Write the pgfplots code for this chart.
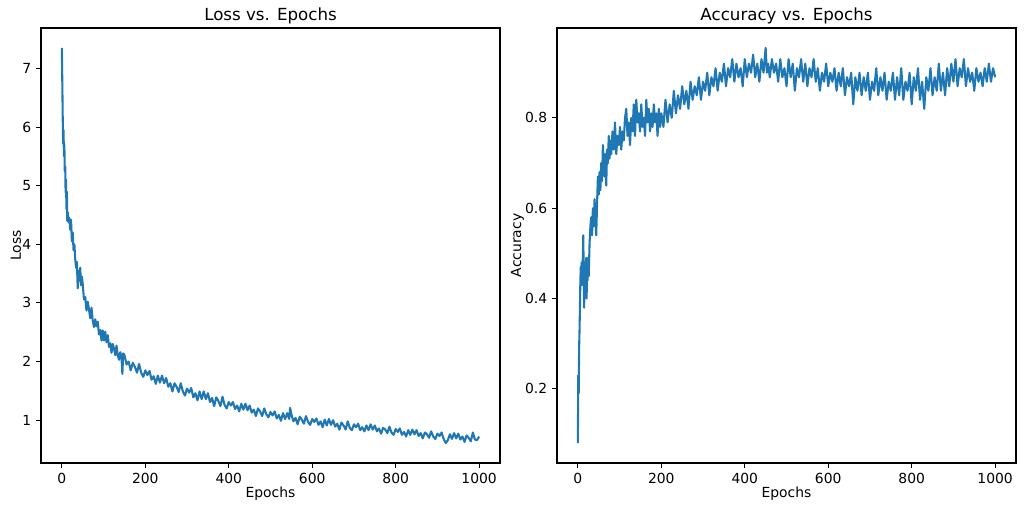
\documentclass[border=0pt]{standalone}
\usepackage{pgfplots}
\pgfplotsset{compat=1.18}
\usepackage{pgfplotstable}
\usepackage{fontspec}
\setmainfont{DejaVu Sans}
\definecolor{mplblue}{HTML}{1F77B4}

\pgfplotstableread{
x y
0 7.35
1 6.80
2 6.20
3 5.72
4 5.95
5 5.50
6 5.70
7 5.25
8 5.33
9 4.88
10 5.10
11 4.60
12 4.90
13 4.40
14 4.55
16 4.38
18 4.45
20 4.25
22 4.42
24 4.05
26 4.20
28 3.90
30 4.00
32 3.75
34 3.60
36 3.70
38 3.25
40 3.55
42 3.38
44 3.60
46 3.30
48 3.45
50 3.32
53 3.06
56 3.10
59 2.87
62 3.02
65 2.89
68 2.74
71 2.92
74 2.70
77 2.59
80 2.72
83 2.60
86 2.68
89 2.46
92 2.54
95 2.36
98 2.53
101 2.36
104 2.51
107 2.33
110 2.45
113 2.25
116 2.31
119 2.15
122 2.30
125 2.22
128 2.11
131 2.27
134 2.11
137 2.03
140 2.16
143 2.07
145 1.79
147 2.14
150 2.11
155 1.95
160 2.00
165 1.85
170 1.98
175 1.91
180 1.81
185 1.96
190 1.81
195 1.74
200 1.85
205 1.77
210 1.84
215 1.69
220 1.75
225 1.62
230 1.76
235 1.64
240 1.76
245 1.63
250 1.72
255 1.57
260 1.63
265 1.49
270 1.63
275 1.57
280 1.48
285 1.63
290 1.49
295 1.42
300 1.54
305 1.47
310 1.55
315 1.39
320 1.46
325 1.34
330 1.49
335 1.36
340 1.49
345 1.36
350 1.46
355 1.31
360 1.38
365 1.24
370 1.39
375 1.33
380 1.24
385 1.40
390 1.26
395 1.20
400 1.31
405 1.25
410 1.31
415 1.19
420 1.25
425 1.15
430 1.28
435 1.18
440 1.28
445 1.17
450 1.25
455 1.13
460 1.18
465 1.07
470 1.20
475 1.15
480 1.07
485 1.20
490 1.10
495 1.05
500 1.14
505 1.08
510 1.15
515 1.03
520 1.09
525 0.99
530 1.12
535 1.02
540 1.12
545 1.02
547 1.21
550 1.10
555 0.98
560 1.04
565 0.93
570 1.06
575 1.01
580 0.94
585 1.07
590 0.97
595 0.92
600 1.02
605 0.97
610 1.03
615 0.92
620 0.98
625 0.88
630 1.01
635 0.91
640 1.02
645 0.92
650 1.00
655 0.89
660 0.94
665 0.84
670 0.96
675 0.91
680 0.84
685 0.98
690 0.87
695 0.83
700 0.93
705 0.88
710 0.94
715 0.83
720 0.88
725 0.81
730 0.91
735 0.83
740 0.93
745 0.84
750 0.91
755 0.81
760 0.86
765 0.77
770 0.87
775 0.84
780 0.78
785 0.89
790 0.79
795 0.75
800 0.85
805 0.80
810 0.86
815 0.75
820 0.80
825 0.72
830 0.83
835 0.75
840 0.84
845 0.76
850 0.83
855 0.73
860 0.78
865 0.69
870 0.79
875 0.76
880 0.70
885 0.81
890 0.72
895 0.68
900 0.77
905 0.73
910 0.79
915 0.68
920 0.61
925 0.66
930 0.76
935 0.68
940 0.78
945 0.69
950 0.77
955 0.67
960 0.72
965 0.63
970 0.74
975 0.70
980 0.64
985 0.79
990 0.67
995 0.66
1000 0.72
}\losstable

\pgfplotstableread{
x y
0 0.08
1 0.23
2 0.19
3 0.29
4 0.33
5 0.38
6 0.44
7 0.47
8 0.45
9 0.48
10 0.43
11 0.47
12 0.49
13 0.54
14 0.45
15 0.38
16 0.44
17 0.48
18 0.42
19 0.46
20 0.49
21 0.40
22 0.47
23 0.44
24 0.49
26 0.45
28 0.52
30 0.56
32 0.58
34 0.54
36 0.60
38 0.56
40 0.62
42 0.58
44 0.54
46 0.61
48 0.67
50 0.63
52 0.68
54 0.64
56 0.70
58 0.66
60 0.74
62 0.70
64 0.67
66 0.72
68 0.65
70 0.73
72 0.70
74 0.76
76 0.71
78 0.75
80 0.72
83 0.77
86 0.73
89 0.79
92 0.72
95 0.76
98 0.74
101 0.78
104 0.73
107 0.77
110 0.75
113 0.80
116 0.82
119 0.76
122 0.79
125 0.74
128 0.80
131 0.77
134 0.83
137 0.76
140 0.84
143 0.79
146 0.81
149 0.77
152 0.83
155 0.78
158 0.80
161 0.76
164 0.84
167 0.79
170 0.82
173 0.77
176 0.81
179 0.78
182 0.83
185 0.79
188 0.81
191 0.76
194 0.82
197 0.78
200 0.81
205 0.78
210 0.84
215 0.79
220 0.83
225 0.80
230 0.86
235 0.81
240 0.85
245 0.82
250 0.87
255 0.83
260 0.86
265 0.82
270 0.88
275 0.84
280 0.87
285 0.85
290 0.89
295 0.84
300 0.88
305 0.86
310 0.90
315 0.85
320 0.89
325 0.87
330 0.91
335 0.86
340 0.90
345 0.88
350 0.92
355 0.87
360 0.91
365 0.89
370 0.93
375 0.88
380 0.92
385 0.89
390 0.91
395 0.87
400 0.93
405 0.89
410 0.92
415 0.90
420 0.94
425 0.89
430 0.92
435 0.88
440 0.93
445 0.90
450 0.955
453 0.90
456 0.92
460 0.89
465 0.93
470 0.90
475 0.92
480 0.88
485 0.93
490 0.89
495 0.91
500 0.87
505 0.93
510 0.89
515 0.92
520 0.86
525 0.91
530 0.89
535 0.93
540 0.88
545 0.92
550 0.87
555 0.91
560 0.89
565 0.93
570 0.88
575 0.91
580 0.86
585 0.90
590 0.88
595 0.92
600 0.87
605 0.90
610 0.88
615 0.91
620 0.86
625 0.90
630 0.87
635 0.91
640 0.85
645 0.89
650 0.87
655 0.90
660 0.83
665 0.89
670 0.86
675 0.90
680 0.85
685 0.89
690 0.86
695 0.90
700 0.84
705 0.88
710 0.86
715 0.91
720 0.85
725 0.89
730 0.86
735 0.90
740 0.84
745 0.88
750 0.86
755 0.90
760 0.84
765 0.89
770 0.85
775 0.91
780 0.84
785 0.88
790 0.86
795 0.90
800 0.83
805 0.89
810 0.86
815 0.91
820 0.84
825 0.88
830 0.82
835 0.89
840 0.86
845 0.91
850 0.85
855 0.89
860 0.86
865 0.92
870 0.86
875 0.90
880 0.85
885 0.91
890 0.87
895 0.92
900 0.88
905 0.93
910 0.87
915 0.91
920 0.89
925 0.93
930 0.87
935 0.91
940 0.88
945 0.90
950 0.86
955 0.91
960 0.88
965 0.90
970 0.87
975 0.91
980 0.88
985 0.92
990 0.88
995 0.91
1000 0.89
}\acctable

\pgfplotsset{
  mplstyle/.style={
    scale only axis,
    width=330.48pt, height=313.2pt,
    axis line style={line width=0.8pt, black},
    tick align=outside,
    major tick length=3.5pt,
    every tick/.style={black, line width=0.8pt},
    xtick pos=left, ytick pos=left,
    /pgf/number format/assume math mode=true,
    tick label style={font=\fontsize{10}{12}\selectfont},
    xticklabel style={/pgf/number format/set thousands separator={}},
    label style={font=\fontsize{10}{12}\selectfont},
    every axis title shift=0pt,
    title style={font=\fontsize{12}{14}\selectfont, at={(0.5,1)}, anchor=base, yshift=5.4pt},
    xmin=-50, xmax=1050,
    xtick={0,200,400,600,800,1000},
    xlabel={Epochs},
    xlabel style={yshift=4pt},
    ylabel style={yshift=-6pt},
    clip=true,
  }
}

\begin{document}
\begin{tikzpicture}
\useasboundingbox (-29.52pt,-32.4pt) rectangle (707.76pt,333.36pt);
\begin{axis}[mplstyle, name=ax1, anchor=south west, at={(0pt,0pt)},
  title={Loss vs. Epochs}, ylabel={Loss},
  ymin=0.27, ymax=7.69, ytick={1,2,3,4,5,6,7}]
\addplot[mplblue, line width=1.5pt, line join=round] table[x=x,y=y] {\losstable};
\end{axis}
\begin{axis}[mplstyle, name=ax2, anchor=south west, at={(371.52pt,0pt)},
  title={Accuracy vs. Epochs}, ylabel={Accuracy},
  ymin=0.036, ymax=0.999, ytick={0.2,0.4,0.6,0.8,1.0},
  yticklabel style={/pgf/number format/fixed, /pgf/number format/precision=1, /pgf/number format/fixed zerofill}]
\addplot[mplblue, line width=1.5pt, line join=round] table[x=x,y=y] {\acctable};
\end{axis}
\end{tikzpicture}
\end{document}
